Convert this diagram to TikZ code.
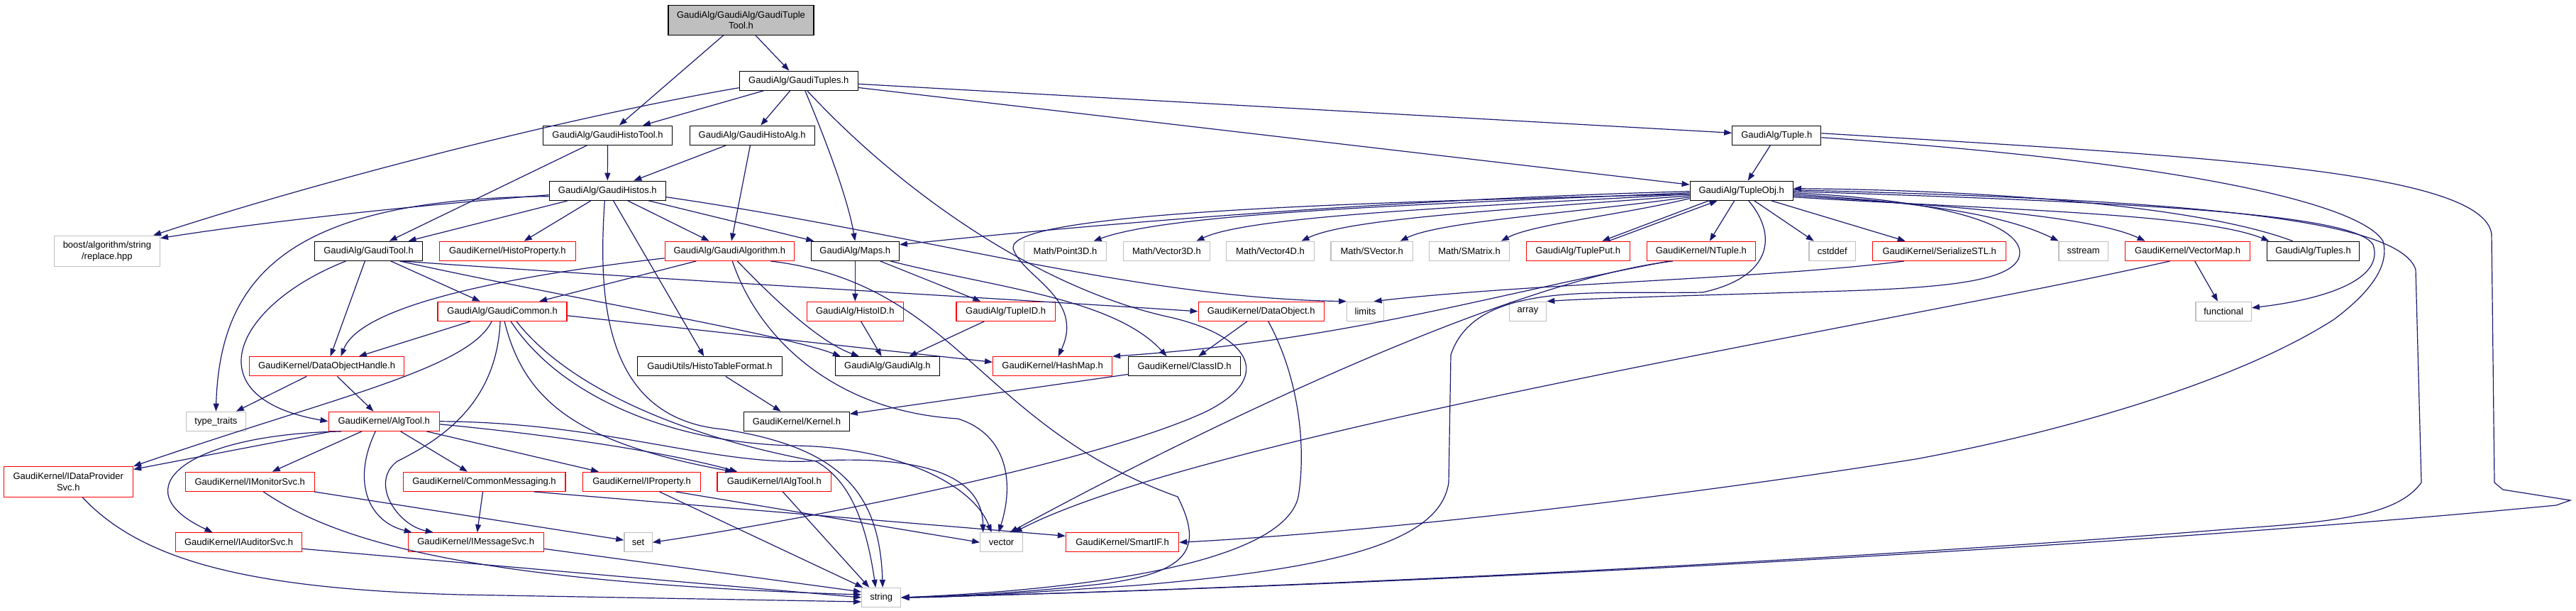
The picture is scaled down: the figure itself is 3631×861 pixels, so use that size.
\documentclass[tikz,border=0pt]{standalone}
\usepackage{fontspec}
\setmainfont{Liberation Sans}
\usepackage{tikz}
\usetikzlibrary{arrows.meta, positioning}
\definecolor{edgeblue}{HTML}{191970}
\definecolor{boxgray}{HTML}{BFBFBF}
\newcommand{\hdrfont}{\fontsize{13pt}{15.7pt}\selectfont}

\begin{document}
\begin{tikzpicture}[x=1pt, y=-1pt,
    hdr/.style={draw=black, line width=1.3pt, rectangle, minimum height=27pt, inner sep=0pt, font=\hdrfont},
    trunc/.style={hdr, draw=red},
    sys/.style={hdr, draw=boxgray},
    root/.style={hdr, fill=boxgray, align=center, minimum height=42pt},
    dep/.style={draw=edgeblue, line width=1.2pt, -{Triangle[length=11pt, width=8pt]}}]
    \path[fill=white, use as bounding box] (0,0) rectangle (3631,861);

    \node[root, minimum width=205pt] (top) at (1044.5,28.3) {GaudiAlg/GaudiAlg/GaudiTuple\\Tool.h};
    \node[hdr, minimum width=167pt] (tuples) at (1125.8,113.7) {GaudiAlg/GaudiTuples.h};
    \node[hdr, minimum width=182pt] (histotool) at (856.5,190.8) {GaudiAlg/GaudiHistoTool.h};
    \node[hdr, minimum width=176pt] (histoalg) at (1060.2,190.8) {GaudiAlg/GaudiHistoAlg.h};
    \node[hdr, minimum width=125pt] (tuple) at (2504.3,190.8) {GaudiAlg/Tuple.h};
    \node[hdr, minimum width=164pt] (histos) at (856.3,268.7) {GaudiAlg/GaudiHistos.h};
    \node[hdr, minimum width=145pt] (tupleobj) at (2454.7,268.7) {GaudiAlg/TupleObj.h};

    \node[sys, minimum width=149pt, minimum height=43pt, align=center] (boost) at (150.9,353.8) {boost/algorithm/string\\/replace.hpp};
    \node[hdr, minimum width=152pt] (gauditool) at (519.5,353.8) {GaudiAlg/GaudiTool.h};
    \node[trunc, minimum width=192pt] (histoprop) at (715.3,353.8) {GaudiKernel/HistoProperty.h};
    \node[trunc, minimum width=182pt] (gaudialgorithm) at (1028.3,353.8) {GaudiAlg/GaudiAlgorithm.h};
    \node[hdr, minimum width=124pt] (maps) at (1205.3,353.8) {GaudiAlg/Maps.h};
    \node[sys, minimum width=115.5pt] (point3d) at (1501.5,353.8) {Math/Point3D.h};
    \node[sys, minimum width=122.5pt] (vector3d) at (1644.4,353.8) {Math/Vector3D.h};
    \node[sys, minimum width=123.4pt] (vector4d) at (1790.5,353.8) {Math/Vector4D.h};
    \node[sys, minimum width=115.5pt] (svector) at (1933.7,353.8) {Math/SVector.h};
    \node[sys, minimum width=112.6pt] (smatrix) at (2071,353.8) {Math/SMatrix.h};
    \node[trunc, minimum width=146.3pt] (tupleput) at (2224.3,353.8) {GaudiAlg/TuplePut.h};
    \node[trunc, minimum width=153.2pt] (ntuple) at (2397.8,353.8) {GaudiKernel/NTuple.h};
    \node[sys, minimum width=65.6pt] (cstddef) at (2582.7,353.8) {cstddef};
    \node[trunc, minimum width=188pt] (serialize) at (2733.7,353.8) {GaudiKernel/SerializeSTL.h};
    \node[sys, minimum width=69.5pt] (sstream) at (2936.6,353.8) {sstream};
    \node[trunc, minimum width=175.8pt] (vectormap) at (3083.6,353.8) {GaudiKernel/VectorMap.h};
    \node[hdr, minimum width=129.5pt] (tuplesh) at (3260.5,353.8) {GaudiAlg/Tuples.h};

    \node[trunc, minimum width=182pt] (common) at (708.1,438.8) {GaudiAlg/GaudiCommon.h};
    \node[trunc, minimum width=135.8pt] (histoid) at (1205.3,438.8) {GaudiAlg/HistoID.h};
    \node[trunc, minimum width=139.4pt] (tupleid) at (1417.7,438.8) {GaudiAlg/TupleID.h};
    \node[trunc, minimum width=177pt] (dataobject) at (1777.7,438.8) {GaudiKernel/DataObject.h};
    \node[sys, minimum width=51.6pt] (stdlimits) at (1924.5,438.8) {limits};
    \node[sys, minimum width=52.3pt] (stdarray) at (2153.5,438.8) {array};
    \node[sys, minimum width=78.4pt] (stdfunctional) at (3134.1,438.8) {functional};

    \node[trunc, minimum width=217.7pt] (doh) at (460.6,516.3) {GaudiKernel/DataObjectHandle.h};
    \node[hdr, minimum width=204pt] (histotable) at (1000.5,516.3) {GaudiUtils/HistoTableFormat.h};
    \node[hdr, minimum width=146.9pt] (gaudialg) at (1250.9,516.3) {GaudiAlg/GaudiAlg.h};
    \node[trunc, minimum width=167.8pt] (hashmap) at (1483.6,516.3) {GaudiKernel/HashMap.h};
    \node[hdr, minimum width=157.9pt] (classid) at (1669.6,516.3) {GaudiKernel/ClassID.h};

    \node[sys, minimum width=84.2pt] (typetraits) at (304.4,593.8) {type\_traits};
    \node[trunc, minimum width=156.1pt] (algtool) at (541.2,593.8) {GaudiKernel/AlgTool.h};
    \node[hdr, minimum width=148.6pt] (kernel) at (1122.9,593.8) {GaudiKernel/Kernel.h};

    \node[trunc, minimum width=182.3pt, minimum height=42.6pt, align=center] (dps) at (96.3,679) {GaudiKernel/IDataProvider\\Svc.h};
    \node[trunc, minimum width=182.2pt] (imonitor) at (352.3,678.8) {GaudiKernel/IMonitorSvc.h};
    \node[trunc, minimum width=228.7pt] (commsg) at (682.5,678.8) {GaudiKernel/CommonMessaging.h};
    \node[trunc, minimum width=166.3pt] (iproperty) at (904.5,678.8) {GaudiKernel/IProperty.h};
    \node[trunc, minimum width=160.7pt] (ialgtool) at (1091.3,678.8) {GaudiKernel/IAlgTool.h};

    \node[trunc, minimum width=177.6pt] (iauditor) at (336.6,764.3) {GaudiKernel/IAuditorSvc.h};
    \node[trunc, minimum width=191pt] (imsgsvc) at (670.7,764.3) {GaudiKernel/IMessageSvc.h};
    \node[sys, minimum width=39.3pt] (stdset) at (899.6,764.3) {set};
    \node[sys, minimum width=59.8pt] (stdvector) at (1411.6,764.3) {vector};
    \node[trunc, minimum width=159pt] (smartif) at (1582,764.3) {GaudiKernel/SmartIF.h};
    \node[sys, minimum width=55.1pt] (stdstring) at (1242.2,842) {string};

    \draw[dep] (top) -- (histotool);
    \draw[dep] (top) -- (tuples);
    \draw[dep] (tuples) -- (histotool);
    \draw[dep] (tuples) -- (histoalg);
    \draw[dep] ([yshift=-10pt]tuples.west) .. controls (800,165) and (450,255) .. ([xshift=-10pt]boost.north east);
    \draw[dep] ([xshift=9pt]tuples.south) .. controls (1165,200) and (1195,280) .. (maps.north);
    \draw[dep] ([xshift=12pt]tuples.south) .. controls (1260,260) and (1450,400) .. (1640,445) .. controls (1760,470) and (1800,530) .. (1700,580) .. controls (1550,650) and (1150,730) .. (stdset.east);
    \draw[dep] (tuples) -- (tuple);
    \draw[dep] (tuples) -- (tupleobj);

    \draw[dep] (histotool) -- (histos);
    \draw[dep] (histotool) -- (gauditool);
    \draw[dep] (histoalg) -- (histos);
    \draw[dep] (histoalg) -- (gaudialgorithm);

    \draw[dep] ([yshift=-6pt]histos.west) .. controls (640,285) and (400,308) .. ([yshift=-4pt]boost.north east);
    \draw[dep] ([yshift=-8pt]histos.west) .. controls (420,280) and (310,380) .. (typetraits.north);
    \draw[dep] (histos) -- (gauditool);
    \draw[dep] (histos) -- (histoprop);
    \draw[dep] (histos) -- (gaudialgorithm);
    \draw[dep] (histos) -- (maps);
    \draw[dep] ([yshift=-9pt]histos.east) .. controls (1300,330) and (1600,420) .. (stdlimits.north west);
    \draw[dep] ([xshift=-4pt]histos.south) .. controls (843,420) and (850,590) .. (1020,605) .. controls (1180,630) and (1240,690) .. ([xshift=2pt]stdstring.north);
    \draw[dep] (histos) -- (histotable);

    \draw[dep] ([xshift=47pt]gauditool.south) .. controls (900,392) and (1400,420) .. (dataobject.west);
    \draw[dep] ([xshift=44pt]gauditool.south) .. controls (800,420) and (1100,470) .. ([xshift=-66pt]gaudialg.north);
    \draw[dep] (gauditool) -- (common);
    \draw[dep] (gauditool) -- (doh);
    \draw[dep] ([xshift=-32pt]gauditool.south) .. controls (330,430) and (270,560) .. (algtool.west);

    \draw[dep] ([xshift=-47pt]gaudialgorithm.south) -- ([xshift=52pt]common.north);
    \draw[dep] ([yshift=-10pt]gaudialgorithm.west) .. controls (750,385) and (510,425) .. ([xshift=20pt]doh.north);
    \draw[dep] ([xshift=11pt]gaudialgorithm.south) .. controls (1080,410) and (1150,480) .. ([xshift=-40pt]gaudialg.north);
    \draw[dep] ([xshift=4pt]gaudialgorithm.south) .. controls (1070,480) and (1180,580) .. (1350,590) .. controls (1420,612) and (1430,680) .. ([xshift=-4pt]stdvector.north);
    \draw[dep] ([xshift=58pt]gaudialgorithm.south) .. controls (1350,400) and (1380,600) .. (1660,700) .. controls (1695,770) and (1680,805) .. (1560,822) .. controls (1450,835) and (1350,840) .. (stdstring.east);

    \draw[dep] (maps) -- (histoid);
    \draw[dep] (maps) -- (tupleid);
    \draw[dep] ([xshift=50pt]maps.south) .. controls (1400,405) and (1570,420) .. ([xshift=-25pt]classid.north);
    \draw[dep] (histoid) -- (gaudialg);
    \draw[dep] (tupleid) -- (gaudialg);

    \draw[dep] (dataobject) -- (classid);
    \draw[dep] ([xshift=10pt]dataobject.south) .. controls (1835,540) and (1840,640) .. (1830,700) .. controls (1810,790) and (1550,830) .. (stdstring.east);
    \draw[dep] (classid) -- (kernel);
    \draw[dep] (histotable) -- (kernel);

    \draw[dep] (common) -- (doh);
    \draw[dep] ([xshift=-15pt]common.south) .. controls (660,520) and (470,560) .. (dps.north east);
    \draw[dep] ([xshift=-3pt]common.south) .. controls (700,570) and (620,620) .. (560,650) .. controls (520,680) and (560,740) .. ([xshift=-60pt]imsgsvc.north);
    \draw[dep] ([xshift=3pt]common.south) .. controls (740,570) and (820,625) .. ([xshift=-58pt]ialgtool.north);
    \draw[dep] ([xshift=12pt]common.south) .. controls (790,560) and (950,625) .. (1120,628) .. controls (1260,630) and (1370,680) .. ([xshift=-14pt]stdvector.north);
    \draw[dep] ([xshift=20pt]common.south) .. controls (800,545) and (960,615) .. (1150,650) .. controls (1195,675) and (1220,730) .. ([xshift=-8pt]stdstring.north);
    \draw[dep] ([yshift=-6pt]common.east) -- ([yshift=6pt]hashmap.west);

    \draw[dep] (doh) -- (typetraits);
    \draw[dep] (doh) -- (algtool);

    \draw[dep] (algtool) -- (dps);
    \draw[dep] ([xshift=-60pt]algtool.south) .. controls (260,612) and (170,690) .. ([xshift=-37pt]iauditor.north);
    \draw[dep] (algtool) -- (imonitor);
    \draw[dep] ([xshift=-12pt]algtool.south) .. controls (495,680) and (520,735) .. ([xshift=-90pt]imsgsvc.north);
    \draw[dep] (algtool) -- (commsg);
    \draw[dep] (algtool) -- (iproperty);
    \draw[dep] ([yshift=-4pt]algtool.east) .. controls (800,615) and (950,640) .. ([xshift=-52pt]ialgtool.north);
    \draw[dep] (algtool.east) .. controls (850,595) and (1000,655) .. (1140,650) .. controls (1300,640) and (1385,670) .. ([xshift=-26pt]stdvector.north);

    \draw[dep] ([xshift=19pt]imonitor.south) .. controls (470,760) and (650,820) .. ([yshift=4pt]stdstring.west);
    \draw[dep] (imonitor) -- (stdset);
    \draw[dep] ([yshift=-9pt]iauditor.east) -- (stdstring.west);
    \draw[dep] ([yshift=-9pt]imsgsvc.east) -- ([yshift=8pt]stdstring.west);
    \draw[dep] ([xshift=20pt]dps.south) .. controls (200,790) and (350,830) .. (650,838) -- ([yshift=-6pt]stdstring.west);
    \draw[dep] (commsg) -- (imsgsvc);
    \draw[dep] ([xshift=70pt]commsg.south) -- ([yshift=9pt]smartif.west);
    \draw[dep] ([xshift=48pt]iproperty.south) -- (stdvector.west);
    \draw[dep] ([xshift=25pt]iproperty.south) -- ([xshift=-26pt]stdstring.north);
    \draw[dep] ([xshift=12pt]ialgtool.south) -- ([xshift=-17pt]stdstring.north);

    \draw[dep] ([xshift=-45pt]ntuple.south) .. controls (2100,415) and (1900,480) .. (hashmap.north east);
    \draw[dep] ([xshift=-40pt]ntuple.south) .. controls (2130,395) and (1700,600) .. ([xshift=12pt]stdvector.north);
    \draw[dep] ([xshift=-25pt]vectormap.south) .. controls (2700,450) and (1700,610) .. ([xshift=18pt]stdvector.north);
    \draw[dep] ([xshift=10pt]vectormap.south) -- (stdfunctional);

    \draw[dep] (tuple) -- (tupleobj);
    \draw[dep] ([yshift=-5pt]tupleobj.west) .. controls (1900,285) and (1420,300) .. (1428,350) .. controls (1440,390) and (1530,420) .. ([xshift=8pt]hashmap.north);
    \draw[dep] ([yshift=-1pt]tupleobj.west) .. controls (2000,280) and (1600,310) .. ([yshift=9pt]maps.east);
    \draw[dep] ([yshift=-3pt]tupleobj.west) .. controls (2000,288) and (1650,300) .. ([xshift=40pt]point3d.north);
    \draw[dep] ([yshift=-5pt]tupleobj.west) .. controls (2050,292) and (1760,305) .. ([xshift=42pt]vector3d.north);
    \draw[dep] ([yshift=-7pt]tupleobj.west) .. controls (2120,296) and (1900,308) .. ([xshift=44pt]vector4d.north);
    \draw[dep] ([yshift=-9pt]tupleobj.west) .. controls (2220,300) and (2030,312) .. ([xshift=40pt]svector.north);
    \draw[dep] ([yshift=-11pt]tupleobj.west) .. controls (2290,302) and (2160,316) .. ([xshift=45pt]smatrix.north);
    \draw[dep] ([xshift=-46pt]tupleobj.south) -- ([xshift=34pt]tupleput.north);
    \draw[dep] ([xshift=43pt]tupleput.north) -- ([xshift=-34pt]tupleobj.south);
    \draw[dep] ([xshift=-10pt]tupleobj.south) -- ([xshift=12pt]ntuple.north);
    \draw[dep] ([xshift=18pt]tupleobj.south) -- ([xshift=-26pt]cstddef.north);
    \draw[dep] ([xshift=42pt]tupleobj.south) -- ([xshift=-48pt]serialize.north);
    \draw[dep] ([xshift=-50pt]serialize.south) .. controls (2500,392) and (2150,400) .. ([xshift=12pt]stdlimits.north);
    \draw[dep] ([xshift=10pt]tupleobj.south) .. controls (2505,330) and (2500,390) .. (2400,412) .. controls (2250,415) and (2080,395) .. (2045,500) -- (2042,680) .. controls (2030,760) and (1900,800) .. (1600,825) .. controls (1450,835) and (1350,842) .. (stdstring.east);

    \draw[dep] ([xshift=-29pt]tuplesh.north) .. controls (3100,290) and (2800,268) .. ([yshift=3pt]tupleobj.east);
    \draw[dep] ([yshift=1pt]tupleobj.east) .. controls (3000,280) and (3380,300) .. (3405,380) -- (3413,680) .. controls (3380,725) and (3300,735) .. (3150,745) .. controls (2600,790) and (1800,830) .. (stdstring.east);
    \draw[dep] ([yshift=-1pt]tupleobj.east) .. controls (3000,285) and (3320,300) .. (3345,345) .. controls (3360,390) and (3290,420) .. ([yshift=5pt]stdfunctional.east);
    \draw[dep] ([yshift=-3pt]tupleobj.east) .. controls (2790,285) and (2860,330) .. (2845,365) .. controls (2830,395) and (2750,405) .. (2600,410) .. controls (2400,416) and (2250,420) .. (stdarray.north east);
    \draw[dep] ([yshift=-5pt]tupleobj.east) .. controls (2700,285) and (2820,300) .. ([xshift=-35pt]sstream.north);
    \draw[dep] ([yshift=-7pt]tupleobj.east) .. controls (2750,290) and (2950,305) .. ([xshift=-60pt]vectormap.north);
    \draw[dep] ([yshift=-9pt]tupleobj.east) .. controls (2800,295) and (3100,300) .. ([xshift=-62pt]tuplesh.north);

    \draw[dep] ([yshift=3pt]tuple.east) .. controls (3100,220) and (3500,240) .. (3512,330) -- (3516,680) -- (3528,690) -- (3623,705) -- (3603,712) .. controls (3000,770) and (2000,825) .. (stdstring.east);
    \draw[dep] ([yshift=-3pt]tuple.east) .. controls (3100,230) and (3330,290) .. (3359,340) .. controls (3370,380) and (3330,420) .. (3290,450) .. controls (3150,540) and (2900,610) .. (2700,647) .. controls (2300,710) and (1900,752) .. (smartif.east);
\end{tikzpicture}
\end{document}
